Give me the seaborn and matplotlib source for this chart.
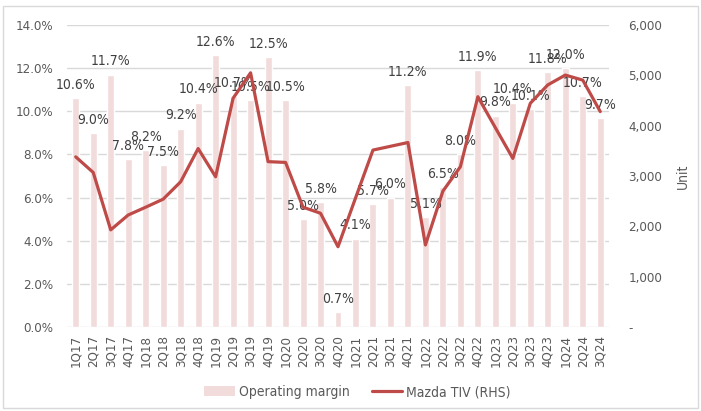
import numpy as np
import pandas as pd
import matplotlib
matplotlib.use("Agg")
import matplotlib.pyplot as plt
import seaborn as sns
from matplotlib.patches import Rectangle, Patch
from matplotlib.lines import Line2D
from matplotlib.ticker import FuncFormatter, MultipleLocator

# ------------------------------------------------------------
# Data
# ------------------------------------------------------------
quarters = ["1Q17", "2Q17", "3Q17", "4Q17", "1Q18", "2Q18", "3Q18", "4Q18",
            "1Q19", "2Q19", "3Q19", "4Q19", "1Q20", "2Q20", "3Q20", "4Q20",
            "1Q21", "2Q21", "3Q21", "4Q21", "1Q22", "2Q22", "3Q22", "4Q22",
            "1Q23", "2Q23", "3Q23", "4Q23", "1Q24", "2Q24", "3Q24"]
op_margin = [10.6, 9.0, 11.7, 7.8, 8.2, 7.5, 9.2, 10.4,
             12.6, 10.7, 10.5, 12.5, 10.5, 5.0, 5.8, 0.7,
             4.1, 5.7, 6.0, 11.2, 5.1, 6.5, 8.0, 11.9,
             9.8, 10.4, 10.1, 11.8, 12.0, 10.7, 9.7]
mazda_tiv = [3380, 3070, 1930, 2225, 2380, 2540, 2885, 3545,
             2985, 4545, 5050, 3285, 3270, 2380, 2260, 1595,
             2560, 3515, 3590, 3665, 1630, 2700, 3185, 4575,
             3960, 3350, 4445, 4810, 5005, 4905, 4280]

df = pd.DataFrame({"quarter": quarters, "margin": op_margin,
                   "tiv": mazda_tiv, "pos": np.arange(len(quarters))})

# ------------------------------------------------------------
# Style
# ------------------------------------------------------------
sns.set_theme(style="white")
plt.rcParams["font.family"] = ["DejaVu Sans"]
plt.rcParams["font.stretch"] = "condensed"

bar_color = "#f2dcdb"
line_color = "#be4b48"
text_color = "#595959"
label_color = "#404040"

fig = plt.figure(figsize=(7.01, 4.11), dpi=100)
ax = fig.add_axes([67 / 701, 1 - 327 / 411, 542 / 701, 302 / 411])

sns.barplot(data=df, x="quarter", y="margin", color=bar_color,
            width=0.4, saturation=1, ax=ax, zorder=2)
ax.set_ylim(0, 14)
ax.set_xlim(-0.5, len(quarters) - 0.5)
ax.yaxis.set_major_locator(MultipleLocator(2))
ax.yaxis.set_major_formatter(FuncFormatter(lambda v, p: f"{v:.1f}%"))
ax.grid(axis="y", color="#d9d9d9", linewidth=1, zorder=0)
ax.set_axisbelow(True)
ax.set_xlabel("")
ax.set_ylabel("")
for s in ax.spines.values():
    s.set_visible(False)
ax.tick_params(axis="y", length=0, pad=10, labelsize=9.5, labelcolor=text_color)
ax.tick_params(axis="x", length=0, pad=6, labelsize=9.5, labelcolor=text_color,
               rotation=90)

# data labels above bars
for i, v in enumerate(op_margin):
    ax.annotate(f"{v:.1f}%", (i, v), xytext=(0, 9.5), textcoords="offset points",
                ha="center", va="center", fontsize=10, color=label_color)

# right axis: Mazda TIV
ax2 = ax.twinx()
sns.lineplot(data=df, x="pos", y="tiv", color=line_color, linewidth=2.3,
             sort=False, ax=ax2)
ax2.set_ylim(0, 6000)
ax2.set_xlim(-0.5, len(quarters) - 0.5)
ax2.yaxis.set_major_locator(MultipleLocator(1000))
ax2.yaxis.set_major_formatter(FuncFormatter(lambda v, p: "-" if v == 0 else f"{v:,.0f}"))
for s in ax2.spines.values():
    s.set_visible(False)
ax2.tick_params(axis="y", length=0, pad=14, labelsize=9.5, labelcolor=text_color)
ax2.set_xlabel("")
ax2.set_ylabel("Unit", fontsize=10, color=text_color)
ax2.yaxis.set_label_coords((676 - 67) / 542, 0.5)

# legend
handles = [Patch(facecolor=bar_color, edgecolor="none"),
           Line2D([0], [0], color=line_color, linewidth=2.3)]
fig.legend(handles, ["Operating margin", "Mazda TIV (RHS)"], loc="center",
           bbox_to_anchor=(0.51, 1 - 392 / 411), ncol=2, frameon=False,
           fontsize=10, labelcolor=text_color, handlelength=2.2,
           columnspacing=1.6, handletextpad=0.3)

# thin border round the chart
fig.patches.append(Rectangle((3 / 701, 3 / 411), 695 / 701, 402 / 411,
                             transform=fig.transFigure, fill=False,
                             edgecolor="#d9d9d9", linewidth=1))

fig.savefig("out.png", dpi=100)
